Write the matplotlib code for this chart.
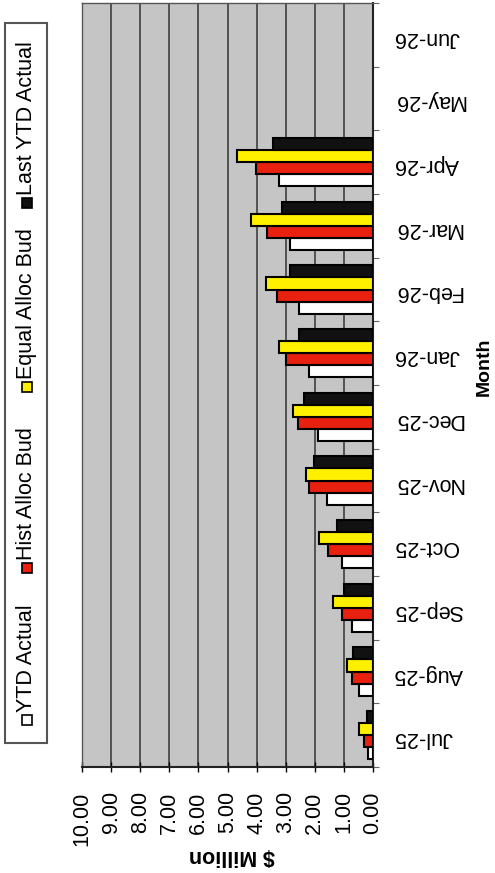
import numpy as np
import matplotlib
matplotlib.use("Agg")
import matplotlib.pyplot as plt
from matplotlib.patches import Rectangle
from matplotlib.ticker import FixedLocator, FormatStrFormatter

plt.rcParams['font.family'] = ['Liberation Sans', 'DejaVu Sans']

months = ['Jul-25', 'Aug-25', 'Sep-25', 'Oct-25', 'Nov-25', 'Dec-25',
          'Jan-26', 'Feb-26', 'Mar-26', 'Apr-26', 'May-26', 'Jun-26']
series_names = ['YTD Actual', 'Hist Alloc Bud', 'Equal Alloc Bud', 'Last YTD Actual']
ytd_actual = [0.16, 0.47, 0.73, 1.08, 1.59, 1.88, 2.19, 2.54, 2.85, 3.23, np.nan, np.nan]
hist_alloc_bud = [0.31, 0.71, 1.08, 1.54, 2.19, 2.58, 2.99, 3.31, 3.65, 4.02, np.nan, np.nan]
equal_alloc_bud = [0.47, 0.90, 1.38, 1.85, 2.30, 2.76, 3.22, 3.69, 4.20, 4.66, np.nan, np.nan]
last_ytd_actual = [0.22, 0.70, 1.00, 1.25, 2.02, 2.37, 2.53, 2.85, 3.14, 3.43, np.nan, np.nan]
value_ticks = [0, 1, 2, 3, 4, 5, 6, 7, 8, 9, 10]

series = [ytd_actual, hist_alloc_bud, equal_alloc_bud, last_ytd_actual]
colors = ['#ffffff', '#e8200f', '#fff000', '#111111']

W, H = 495, 873
fig = plt.figure(figsize=(W / 100, H / 100), dpi=100)
fig.patch.set_facecolor('white')

def fx(px):
    return px / W

def fy(py):
    return 1 - py / H

ax = fig.add_axes([fx(82), fy(767), fx(373) - fx(82), fy(3) - fy(767)])
ax.set_facecolor('#c5c5c5')

y = np.arange(len(months))
h = 0.19
for k, (vals, col) in enumerate(zip(series, colors)):
    ax.barh(y + (k - 1.5) * h, vals, height=h, color=col, edgecolor='black',
            linewidth=1.5, zorder=3)

ax.set_xlim(10, 0)
ax.set_ylim(-0.5, len(months) - 0.5)

ax.xaxis.set_major_locator(FixedLocator(value_ticks))
ax.xaxis.set_major_formatter(FormatStrFormatter('%.2f'))
ax.grid(axis='x', color='#4a4a4a', linewidth=1.3, zorder=1)
ax.tick_params(axis='x', direction='inout', length=7, width=1, pad=14,
               labelsize=15.5, labelrotation=90)

ax.yaxis.tick_right()
ax.set_yticks(y)
ax.set_yticklabels(months)
ax.set_yticks(np.arange(-0.5, len(months), 1.0), minor=True)
ax.tick_params(axis='y', which='major', length=0, pad=15, labelsize=15.5,
               labelrotation=180)
ax.tick_params(axis='y', which='minor', length=4, width=0.8, direction='out',
               colors='#666666')
for lbl in ax.get_yticklabels():
    lbl.set_horizontalalignment('left')

for s in ['left', 'top']:
    ax.spines[s].set_color('#555555')
    ax.spines[s].set_linewidth(1.0)
for s in ['right', 'bottom']:
    ax.spines[s].set_color('#222222')
    ax.spines[s].set_linewidth(1.5)

fig.text(fx(232), fy(855), '$ Million', rotation=180, ha='center', va='center',
         fontsize=15.5, fontweight='bold')
fig.text(fx(484), fy(367), 'Month', rotation=90, ha='center', va='center',
         fontsize=14, fontweight='bold')

# legend (rotated, drawn manually)
fig.patches.append(Rectangle((fx(5), fy(743)), fx(47) - fx(5), fy(23) - fy(743),
                             transform=fig.transFigure, facecolor='white',
                             edgecolor='#555555', linewidth=1.5))
sq_y = [720, 568, 387, 203]
for name, col, sy in zip(series_names, colors, sq_y):
    fig.patches.append(Rectangle((fx(22), fy(sy + 5)), fx(10), 10 / H,
                                 transform=fig.transFigure, facecolor=col,
                                 edgecolor='black', linewidth=1.2))
    fig.text(fx(27), fy(sy - 8), name, rotation=90, ha='center', va='bottom',
             fontsize=15.5)

fig.savefig('out.png', dpi=100)
